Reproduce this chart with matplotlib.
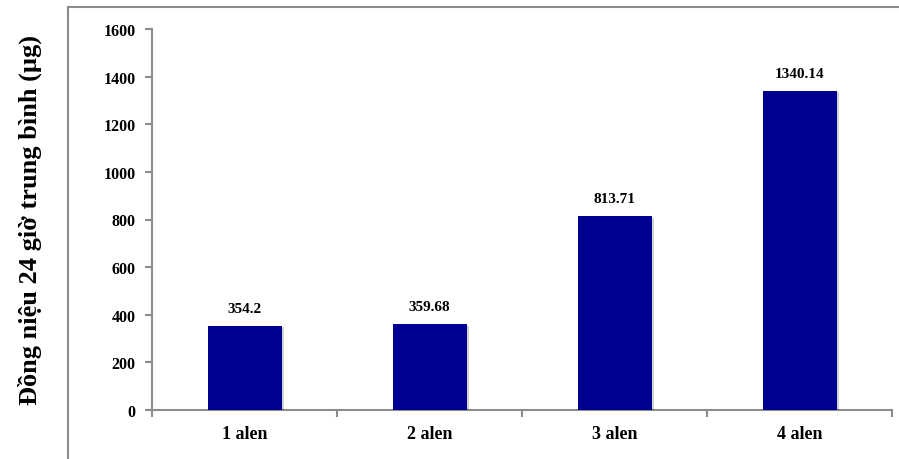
import matplotlib.pyplot as plt
import matplotlib.patheffects as pe
from matplotlib.patches import Rectangle
import numpy as np

# Average 24h urinary copper by number of alleles
groups = ["1 alen", "2 alen", "3 alen", "4 alen"]
values = [354.2, 359.68, 813.71, 1340.14]
value_labels = ["354.2", "359.68", "813.71", "1340.14"]
y_ticks = [0, 200, 400, 600, 800, 1000, 1200, 1400, 1600]

plt.rcParams['font.family'] = ['Liberation Serif', 'DejaVu Serif']
plt.rcParams['font.weight'] = 'bold'

fig = plt.figure(figsize=(8.99, 4.60), dpi=100)
W, H = 899, 460

# outer chart frame (runs off the right and bottom edges)
fig.patches.append(Rectangle((68 / W, -0.1), 1.2, (1 - 8 / H) + 0.1,
                             transform=fig.transFigure, fill=False,
                             edgecolor="#8c8c8c", linewidth=1.5))

ax = fig.add_axes([152 / W, 1 - 411 / H, (892 - 152) / W, (411 - 30) / H])

x = np.arange(len(groups))
bars = ax.bar(x, values, width=0.4, color="#000090", zorder=3,
              path_effects=[pe.SimplePatchShadow(offset=(2, -1), alpha=0.18),
                            pe.Normal()])

for xi, v, lab in zip(x, values, value_labels):
    ax.annotate(lab, (xi, v), xytext=(0, 8), textcoords="offset points",
                ha="center", va="bottom", fontsize=11, fontweight="bold")

ax.set_xlim(-0.5, len(groups) - 0.5)
ax.set_ylim(0, 1600)
ax.set_yticks(y_ticks)
ax.set_xticks(x)
ax.set_xticklabels(groups, fontsize=13, fontweight="bold")
ax.set_xticks(np.arange(len(groups) + 1) - 0.5, minor=True)
ax.tick_params(axis="x", which="major", length=0, pad=11)
ax.tick_params(axis="x", which="minor", length=5, width=1.5, color="#8c8c8c",
               direction="out")
ax.tick_params(axis="y", length=5, width=1.5, color="#8c8c8c", pad=7,
               labelsize=11.5)
for t in ax.get_yticklabels():
    t.set_fontweight("bold")

for s in ["top", "right"]:
    ax.spines[s].set_visible(False)
for s in ["left", "bottom"]:
    ax.spines[s].set_color("#8c8c8c")
    ax.spines[s].set_linewidth(1.5)

fig.text(30 / W, 1 - 220 / H, "Đồng niệu 24 giờ trung bình (µg)",
         rotation=90, ha="center", va="center", fontsize=19,
         fontweight="bold")

fig.savefig("out.png", dpi=100)
